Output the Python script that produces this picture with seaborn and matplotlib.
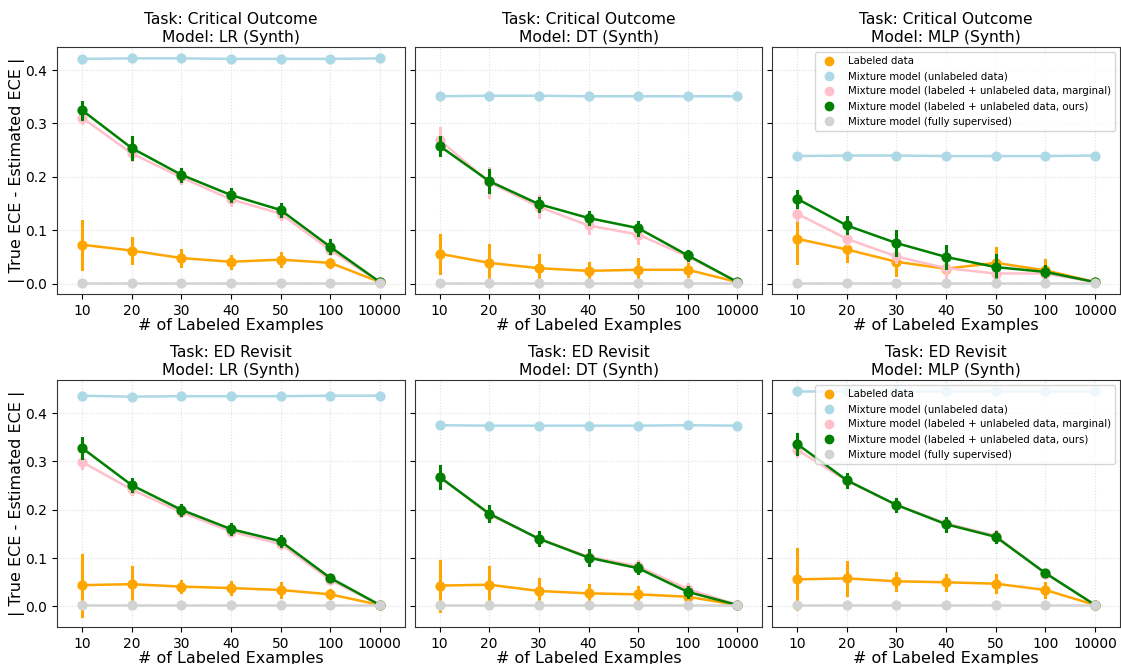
import pandas as pd
import seaborn as sb
import matplotlib.pyplot as plt
from matplotlib.lines import Line2D

n_labeled = ["10", "20", "30", "40", "50", "100", "10000"]
methods = [
    "Labeled data",
    "Mixture model (unlabeled data)",
    "Mixture model (labeled + unlabeled data, marginal)",
    "Mixture model (labeled + unlabeled data, ours)",
    "Mixture model (fully supervised)",
]
colors = ["orange", "lightblue", "pink", "green", "lightgray"]
tasks = ["Critical Outcome", "ED Revisit"]
models = ["LR", "DT", "MLP"]

# row order in every block: labeled, unlabeled, marginal, ours, fully supervised
co_lr_mean = [
    [0.073, 0.062, 0.048, 0.041, 0.045, 0.039, 0.003],
    [0.421, 0.422, 0.422, 0.421, 0.421, 0.421, 0.422],
    [0.311, 0.244, 0.199, 0.158, 0.131, 0.063, 0.003],
    [0.325, 0.254, 0.204, 0.166, 0.138, 0.069, 0.003],
    [0.002, 0.002, 0.002, 0.002, 0.002, 0.002, 0.002],
]
co_lr_err = [
    [0.045, 0.023, 0.015, 0.011, 0.012, 0.008, 0.0],
    [0.0, 0.0, 0.0, 0.0, 0.0, 0.0, 0.0],
    [0.010, 0.012, 0.010, 0.010, 0.010, 0.008, 0.0],
    [0.016, 0.020, 0.011, 0.011, 0.011, 0.012, 0.0],
    [0.0, 0.0, 0.0, 0.0, 0.0, 0.0, 0.0],
]

co_dt_mean = [
    [0.056, 0.039, 0.029, 0.024, 0.026, 0.026, 0.003],
    [0.351, 0.352, 0.352, 0.351, 0.351, 0.351, 0.351],
    [0.269, 0.190, 0.144, 0.109, 0.092, 0.051, 0.003],
    [0.258, 0.192, 0.149, 0.123, 0.104, 0.053, 0.003],
    [0.002, 0.002, 0.002, 0.002, 0.002, 0.002, 0.002],
]
co_dt_err = [
    [0.036, 0.033, 0.024, 0.015, 0.020, 0.012, 0.0],
    [0.0, 0.0, 0.0, 0.0, 0.0, 0.0, 0.0],
    [0.022, 0.027, 0.020, 0.015, 0.015, 0.008, 0.0],
    [0.017, 0.020, 0.012, 0.012, 0.012, 0.009, 0.0],
    [0.0, 0.0, 0.0, 0.0, 0.0, 0.0, 0.0],
]

co_mlp_mean = [
    [0.084, 0.064, 0.041, 0.028, 0.039, 0.025, 0.003],
    [0.239, 0.240, 0.240, 0.239, 0.239, 0.239, 0.240],
    [0.131, 0.084, 0.051, 0.029, 0.019, 0.019, 0.003],
    [0.159, 0.109, 0.076, 0.050, 0.031, 0.022, 0.003],
    [0.002, 0.002, 0.002, 0.002, 0.002, 0.002, 0.002],
]
co_mlp_err = [
    [0.045, 0.022, 0.025, 0.010, 0.028, 0.019, 0.0],
    [0.0, 0.0, 0.0, 0.0, 0.0, 0.0, 0.0],
    [0.012, 0.010, 0.010, 0.018, 0.008, 0.008, 0.0],
    [0.015, 0.015, 0.022, 0.020, 0.022, 0.011, 0.0],
    [0.0, 0.0, 0.0, 0.0, 0.0, 0.0, 0.0],
]

ed_lr_mean = [
    [0.044, 0.046, 0.041, 0.038, 0.034, 0.025, 0.003],
    [0.436, 0.434, 0.435, 0.435, 0.435, 0.436, 0.436],
    [0.299, 0.242, 0.195, 0.155, 0.129, 0.055, 0.003],
    [0.328, 0.251, 0.200, 0.160, 0.135, 0.059, 0.003],
    [0.003, 0.003, 0.003, 0.003, 0.003, 0.003, 0.003],
]
ed_lr_err = [
    [0.063, 0.035, 0.012, 0.012, 0.014, 0.008, 0.0],
    [0.0, 0.0, 0.0, 0.0, 0.0, 0.0, 0.0],
    [0.012, 0.010, 0.008, 0.008, 0.008, 0.006, 0.0],
    [0.021, 0.013, 0.010, 0.011, 0.010, 0.006, 0.0],
    [0.0, 0.0, 0.0, 0.0, 0.0, 0.0, 0.0],
]

ed_dt_mean = [
    [0.043, 0.045, 0.032, 0.027, 0.025, 0.020, 0.003],
    [0.375, 0.374, 0.374, 0.374, 0.374, 0.375, 0.374],
    [0.268, 0.190, 0.140, 0.103, 0.083, 0.036, 0.003],
    [0.268, 0.192, 0.140, 0.101, 0.079, 0.030, 0.003],
    [0.003, 0.003, 0.003, 0.003, 0.003, 0.003, 0.003],
]
ed_dt_err = [
    [0.052, 0.036, 0.024, 0.018, 0.015, 0.006, 0.0],
    [0.0, 0.0, 0.0, 0.0, 0.0, 0.0, 0.0],
    [0.015, 0.012, 0.010, 0.012, 0.010, 0.010, 0.0],
    [0.022, 0.015, 0.013, 0.015, 0.010, 0.010, 0.0],
    [0.0, 0.0, 0.0, 0.0, 0.0, 0.0, 0.0],
]

ed_mlp_mean = [
    [0.056, 0.058, 0.052, 0.050, 0.047, 0.034, 0.003],
    [0.445, 0.445, 0.445, 0.445, 0.445, 0.445, 0.445],
    [0.324, 0.260, 0.210, 0.172, 0.146, 0.068, 0.003],
    [0.336, 0.261, 0.210, 0.170, 0.144, 0.069, 0.003],
    [0.003, 0.003, 0.003, 0.003, 0.003, 0.003, 0.003],
]
ed_mlp_err = [
    [0.062, 0.034, 0.018, 0.016, 0.017, 0.015, 0.0],
    [0.0, 0.0, 0.0, 0.0, 0.0, 0.0, 0.0],
    [0.012, 0.010, 0.010, 0.010, 0.010, 0.006, 0.0],
    [0.021, 0.013, 0.012, 0.013, 0.011, 0.006, 0.0],
    [0.0, 0.0, 0.0, 0.0, 0.0, 0.0, 0.0],
]

panel_means = [[co_lr_mean, co_dt_mean, co_mlp_mean], [ed_lr_mean, ed_dt_mean, ed_mlp_mean]]
panel_errs = [[co_lr_err, co_dt_err, co_mlp_err], [ed_lr_err, ed_dt_err, ed_mlp_err]]

# long format: lower / centre / upper per point -> median + 100% interval
rows = []
for i, task in enumerate(tasks):
    for j, model in enumerate(models):
        for method, m_row, e_row in zip(methods, panel_means[i][j], panel_errs[i][j]):
            for n, m, e in zip(n_labeled, m_row, e_row):
                for v in (m - e, m, m + e):
                    rows.append({"task": task, "model": model, "method": method, "n": n, "value": v})
df = pd.DataFrame(rows)

fig, axes = plt.subplots(2, 3, figsize=(11.21, 6.64), dpi=100, sharey="row")
fig.subplots_adjust(left=0.051, right=0.999, top=0.929, bottom=0.056, wspace=0.029, hspace=0.35)

for i, task in enumerate(tasks):
    for j, model in enumerate(models):
        ax = axes[i, j]
        sub = df[(df["task"] == task) & (df["model"] == model)]
        sb.pointplot(data=sub, x="n", y="value", hue="method", order=n_labeled, hue_order=methods,
                     palette=colors, estimator="median", errorbar=("pi", 100), markers="o",
                     markersize=6, linewidth=1.8, err_kws={"linewidth": 2.2}, legend=False, ax=ax)
        ax.set_title(f"Task: {task}\nModel: {model} (Synth)", fontsize=11.2, pad=4)
        ax.set_xlabel("# of Labeled Examples", fontsize=11.5, labelpad=0)
        if j == 0:
            ax.set_ylabel("| True ECE - Estimated ECE |", fontsize=11.5, labelpad=0)
        else:
            ax.set_ylabel("")
        ax.tick_params(labelsize=10)
        ax.grid(True, linestyle=":", color="lightgray", alpha=0.7)
        for s in ax.spines.values():
            s.set_color("#333333")
        if j == 2:
            handles = [Line2D([], [], marker="o", linestyle="none", color=c, markersize=6) for c in colors]
            ax.legend(handles, methods, loc="upper right", fontsize=7.3)

plt.savefig("out.png", dpi=100)
